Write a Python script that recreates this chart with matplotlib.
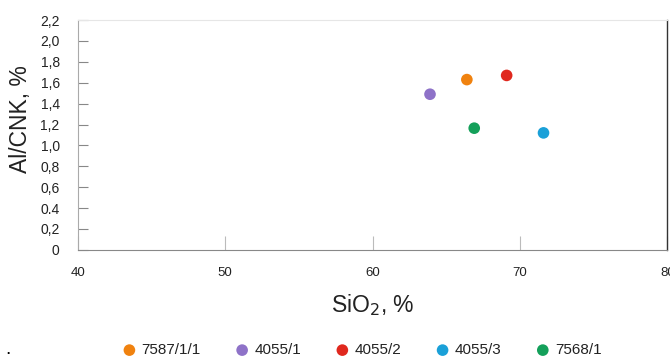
import matplotlib
matplotlib.use("Agg")
import matplotlib.pyplot as plt

plt.rcParams['font.family'] = ['Liberation Sans', 'DejaVu Sans']

samples = ['7587/1/1', '4055/1', '4055/2', '4055/3', '7568/1']
sio2 = [66.4, 63.9, 69.1, 71.6, 66.9]
acnk = [1.63, 1.49, 1.67, 1.12, 1.165]
colors = ['#f0820f', '#8e72c8', '#e0281e', '#1aa0d8', '#14a05a']

yticks = [0, 0.2, 0.4, 0.6, 0.8, 1.0, 1.2, 1.4, 1.6, 1.8, 2.0, 2.2]
ytick_labels = ['0', '0,2', '0.4', '0,6', '0,8', '1,0', '1,2', '1,4', '1,6', '1,8', '2,0', '2,2']
xticks = [40, 50, 60, 70, 80]

fig = plt.figure(figsize=(6.7, 3.58), dpi=100)
ax = fig.add_axes([0.116, 0.302, 0.88, 0.642])

for name, x, y, c in zip(samples, sio2, acnk, colors):
    ax.scatter(x, y, s=70, color=c, edgecolors='none', label=name, zorder=3)

ax.set_xlim(40, 80)
ax.set_ylim(0, 2.2)
ax.set_yticks(yticks)
ax.set_yticklabels(ytick_labels)
ax.set_xticks(xticks)
ax.set_xticklabels([str(v) for v in xticks])

ax.tick_params(axis='y', direction='in', length=7, width=0.8, color='#888888',
               labelsize=10, pad=13, labelcolor='#222222')
ax.tick_params(axis='x', direction='in', length=10, width=0.8, color='#bbbbbb',
               labelsize=9.5, pad=12, labelcolor='#222222')

ax.spines['left'].set_color('#aaaaaa')
ax.spines['left'].set_linewidth(0.8)
ax.spines['top'].set_color('#e6e6e6')
ax.spines['top'].set_linewidth(0.8)
ax.spines['right'].set_color('#333333')
ax.spines['right'].set_linewidth(1.0)
ax.spines['bottom'].set_color('#888888')
ax.spines['bottom'].set_linewidth(0.8)

ax.set_ylabel('Al/CNK, %', fontsize=16.5, color='#222222')
ax.yaxis.set_label_coords(-0.078, 0.57)
ax.set_xlabel('SiO$_2$, %', fontsize=16.5, color='#222222')
ax.xaxis.set_label_coords(0.5, -0.183)

fig.legend(loc='center', bbox_to_anchor=(0.541, 0.022), ncol=5, frameon=False,
           fontsize=11, handlelength=0.8, handletextpad=0.4, columnspacing=2.3,
           borderpad=0.0, labelcolor='#222222')

fig.text(0.008, 0.0, '.', fontsize=14, va='bottom')

fig.savefig('out.png', dpi=100)
